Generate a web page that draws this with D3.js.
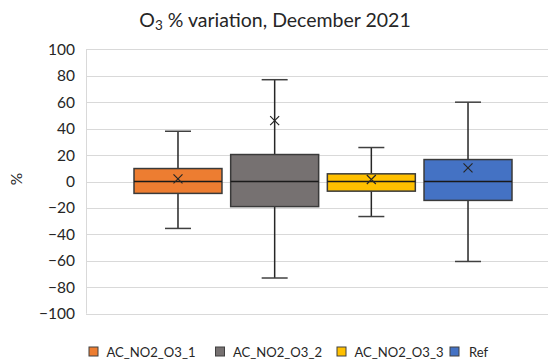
<!DOCTYPE html>
<html>
<head>
<meta charset="utf-8">
<script src="https://cdn.jsdelivr.net/npm/d3@7"></script>
<style>
  html, body { margin: 0; padding: 0; background: #fff; }
  svg { display: block; font-family: Lato, "Open Sans", sans-serif; }
</style>
</head>
<body>
<svg id="chart" width="548" height="361"></svg>
<script>
// Box-plot statistics per monitor (% variation)
const seriesNames = ["AC_NO2_O3_1", "AC_NO2_O3_2", "AC_NO2_O3_3", "Ref"];
const seriesColors = ["#ED7D31", "#767171", "#FFC000", "#4472C4"];
const whiskerLow  = [-35.5, -73, -26.5, -60.5];
const quartile1   = [-9, -19, -7.3, -14.3];
const medians     = [0, 0, 0, 0];
const quartile3   = [9.8, 20.4, 5.8, 16.6];
const whiskerHigh = [38, 77, 25.7, 60];
const means       = [2, 46, 1.5, 10.3];
const yTicks = [-100, -80, -60, -40, -20, 0, 20, 40, 60, 80, 100];

const svg = d3.select("#chart");
const plot = { left: 86, right: 560, top: 49.3, bottom: 313.7 };

const y = d3.scaleLinear().domain([-100, 100]).range([plot.bottom, plot.top]);
const x = d3.scaleBand().domain(seriesNames).range([134, 512]).paddingInner(0.09).paddingOuter(0);

// Title with subscript
const title = svg.append("text")
  .attr("x", 275).attr("y", 27)
  .attr("text-anchor", "middle")
  .attr("font-size", 19.5).attr("fill", "#262626");
title.append("tspan").text("O");
title.append("tspan").attr("font-size", 13.5).attr("dy", 3).text("3");
title.append("tspan").attr("dy", -3).text(" % variation, December 2021");

// Horizontal gridlines
svg.append("g").selectAll("line").data(yTicks).join("line")
  .attr("x1", plot.left).attr("x2", plot.right)
  .attr("y1", d => Math.round(y(d)) + 0.5).attr("y2", d => Math.round(y(d)) + 0.5)
  .attr("stroke", "#d9d9d9").attr("stroke-width", 1);

// Left axis line
svg.append("line")
  .attr("x1", plot.left + 0.5).attr("x2", plot.left + 0.5)
  .attr("y1", y(100)).attr("y2", y(-100))
  .attr("stroke", "#d9d9d9");

// Y axis labels
const yAxis = d3.axisLeft(y).tickValues(yTicks).tickSize(0).tickPadding(11).tickFormat(d3.format("d"));
const gy = svg.append("g").attr("transform", `translate(${plot.left},0)`).call(yAxis);
gy.select(".domain").remove();
gy.selectAll("text").attr("font-size", 15.5).attr("fill", "#262626").attr("font-family", "Lato, sans-serif");

// Y axis title
svg.append("text")
  .attr("transform", "translate(22,179) rotate(-90)")
  .attr("text-anchor", "middle")
  .attr("font-size", 15.5).attr("fill", "#262626")
  .text("%");

// Boxes
const data = seriesNames.map((name, i) => ({
  name, color: seriesColors[i],
  lo: whiskerLow[i], q1: quartile1[i], med: medians[i], q3: quartile3[i], hi: whiskerHigh[i], mean: means[i]
}));

const boxes = svg.append("g").selectAll("g").data(data).join("g");
const cx = d => x(d.name) + x.bandwidth() / 2;
const capHalf = 13;

// whisker stems
boxes.append("line")
  .attr("x1", cx).attr("x2", cx)
  .attr("y1", d => y(d.hi)).attr("y2", d => y(d.q3))
  .attr("stroke", "#262626").attr("stroke-width", 1.5);
boxes.append("line")
  .attr("x1", cx).attr("x2", cx)
  .attr("y1", d => y(d.q1)).attr("y2", d => y(d.lo))
  .attr("stroke", "#262626").attr("stroke-width", 1.5);
// whisker caps
boxes.append("line")
  .attr("x1", d => cx(d) - capHalf).attr("x2", d => cx(d) + capHalf)
  .attr("y1", d => y(d.hi)).attr("y2", d => y(d.hi))
  .attr("stroke", "#404040").attr("stroke-width", 1.5);
boxes.append("line")
  .attr("x1", d => cx(d) - capHalf).attr("x2", d => cx(d) + capHalf)
  .attr("y1", d => y(d.lo)).attr("y2", d => y(d.lo))
  .attr("stroke", "#404040").attr("stroke-width", 1.5);
// box
boxes.append("rect")
  .attr("x", d => x(d.name)).attr("width", x.bandwidth())
  .attr("y", d => y(d.q3)).attr("height", d => y(d.q1) - y(d.q3))
  .attr("fill", d => d.color).attr("stroke", "#3a3a3a").attr("stroke-width", 1.5);
// median
boxes.append("line")
  .attr("x1", d => x(d.name)).attr("x2", d => x(d.name) + x.bandwidth())
  .attr("y1", d => y(d.med)).attr("y2", d => y(d.med))
  .attr("stroke", "#1a1a1a").attr("stroke-width", 1.5);
// mean marker (x)
const mk = 4.5;
boxes.append("path")
  .attr("d", d => {
    const px = cx(d), py = y(d.mean);
    return `M${px - mk},${py - mk}L${px + mk},${py + mk}M${px - mk},${py + mk}L${px + mk},${py - mk}`;
  })
  .attr("stroke", "#262626").attr("stroke-width", 1.2).attr("fill", "none");

// Legend
const legendX = [89, 215.5, 337, 450];
const legend = svg.append("g").selectAll("g").data(data).join("g")
  .attr("transform", (d, i) => `translate(${legendX[i]},347)`);
legend.append("rect")
  .attr("width", 9).attr("height", 9)
  .attr("fill", d => d.color).attr("stroke", "#404040").attr("stroke-width", 1);
legend.append("text")
  .attr("x", d => d.name === "Ref" ? 19 : 17.5).attr("y", 9.5)
  .attr("font-size", 13).attr("fill", "#262626")
  .each(function (d) {
    if (d.name !== "Ref") d3.select(this).attr("textLength", 89).attr("lengthAdjust", "spacingAndGlyphs");
  })
  .text(d => d.name);
</script>
</body>
</html>
